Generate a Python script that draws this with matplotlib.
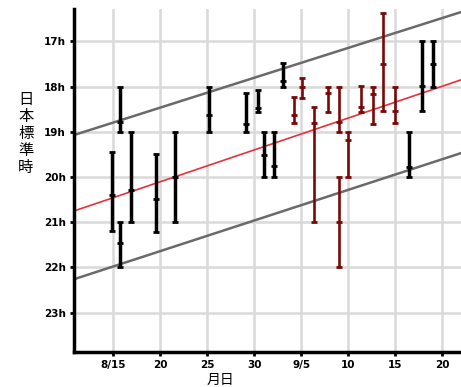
import matplotlib.pyplot as plt

# =========================
# Data (x = day index, 8/15 -> 15; y = hour, JST)
# =========================
black_x = [14.9, 15.74, 15.74, 16.9, 19.55, 21.6, 25.25, 29.15, 30.37, 31.06, 32.13, 33.12, 46.52, 47.84, 49.0]
black_top = [19.45, 18.0, 21.0, 19.0, 19.48, 19.0, 18.0, 18.13, 18.08, 19.0, 19.0, 17.48, 19.0, 17.0, 17.0]
black_mean = [20.4, 18.78, 21.45, 20.29, 20.49, 20.0, 18.63, 18.83, 18.48, 19.51, 19.76, 17.87, 19.77, 17.98, 17.5]
black_bot = [21.2, 19.0, 22.0, 21.0, 21.22, 21.0, 19.0, 19.0, 18.56, 20.0, 20.0, 18.0, 20.0, 18.54, 18.0]

red_x = [34.26, 35.1, 36.38, 37.9, 39.04, 39.04, 39.95, 41.35, 42.63, 43.69, 44.93]
red_top = [18.22, 17.81, 18.46, 18.0, 18.0, 20.0, 19.0, 17.98, 18.0, 16.38, 18.0]
red_mean = [18.63, 18.0, 18.8, 18.15, 18.78, 21.0, 19.18, 18.44, 18.17, 17.5, 18.54]
red_bot = [18.81, 18.25, 21.0, 18.55, 19.0, 22.0, 20.0, 18.55, 18.83, 18.54, 18.81]

line_x = [10.85, 52.0]
upper_line = [19.07, 16.35]
trend_line = [20.75, 17.85]
lower_line = [22.26, 19.47]

x_ticks = [15, 20, 25, 30, 35, 40, 45, 50]
x_labels = ['8/15', '20', '25', '30', '9/5', '10', '15', '20']
y_ticks = [17, 18, 19, 20, 21, 22, 23]
y_labels = ['17h', '18h', '19h', '20h', '21h', '22h', '23h']

# =========================
# Plot
# =========================
fig = plt.figure(figsize=(4.61, 3.87), dpi=100)
ax = fig.add_axes([0.1605, 0.0904, 0.8395, 0.8866])

ax.set_xlim(10.85, 52.0)
ax.set_ylim(23.87, 16.28)

ax.set_xticks(x_ticks)
ax.set_xticklabels(x_labels, fontsize=7.5, fontweight='bold')
ax.set_yticks(y_ticks)
ax.set_yticklabels(y_labels, fontsize=7.5, fontweight='bold')
ax.tick_params(length=3, width=2, direction='out', pad=3)
ax.grid(True, color='#d9d9d9', linewidth=1.8)
ax.set_axisbelow(True)

for s in ['top', 'right']:
    ax.spines[s].set_visible(False)
for s in ['left', 'bottom']:
    ax.spines[s].set_linewidth(2.5)

ax.plot(line_x, upper_line, color='#6a6a6a', linewidth=1.8, zorder=2)
ax.plot(line_x, lower_line, color='#6a6a6a', linewidth=1.8, zorder=2)
ax.plot(line_x, trend_line, color='#e8303c', linewidth=1.2, zorder=2)

for xs, tops, means, bots, col, lw in [
        (black_x, black_top, black_mean, black_bot, 'black', 2.5),
        (red_x, red_top, red_mean, red_bot, '#7a0808', 1.9)]:
    ax.vlines(xs, tops, bots, color=col, linewidth=lw, zorder=3)
    ax.plot(xs, tops, '_', color=col, markersize=5, mew=2, zorder=3)
    ax.plot(xs, bots, '_', color=col, markersize=5, mew=2, zorder=3)
    ax.plot(xs, means, '_', color=col, markersize=4.5, mew=2, zorder=3)

cjk = ['Noto Sans CJK JP', 'DejaVu Sans']
fig.text(0.056, 0.655, '\n'.join('日本標準時'), family=cjk, fontsize=11,
         ha='center', va='center', linespacing=1.0)
fig.text(0.478, 0.0, '月日', family=cjk, fontsize=10, ha='center', va='bottom')

plt.savefig('out.png', dpi=100)
